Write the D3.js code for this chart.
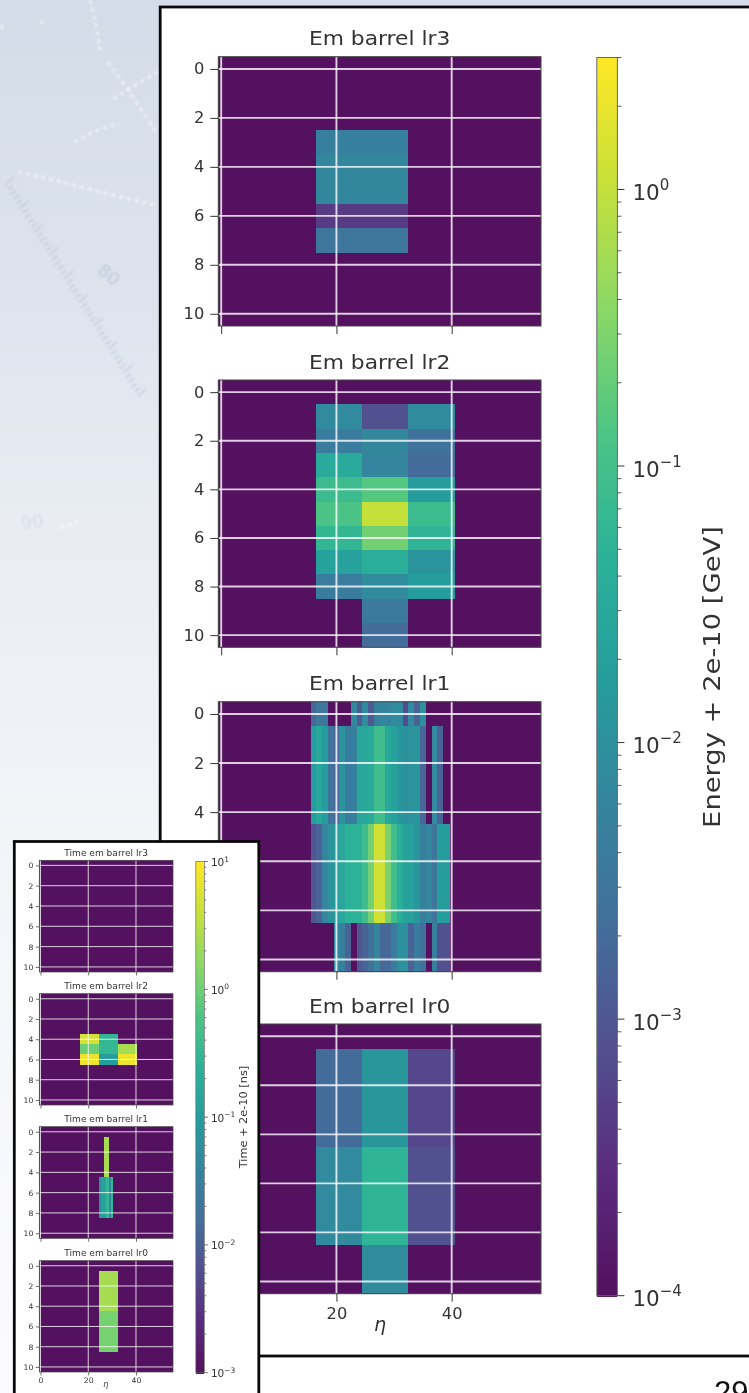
<!DOCTYPE html>
<html>
<head>
<meta charset="utf-8">
<script src="https://cdn.jsdelivr.net/npm/d3@7"></script>
<style>
html,body{margin:0;padding:0;background:#fff;}
svg{display:block;}
text{font-family:"DejaVu Sans",sans-serif;fill:#222;}
</style>
</head>
<body>
<div id="chart"></div>
<script>
// ---------- data ----------
const coarseEdges = [16.5, 24.5, 32.5, 40.5];
const fineEdges = [15.5,16.5,17.5,18.5,19.5,20.5,21.5,22.5,23.5,24.5,25.5,26.5,27.5,28.5,29.5,30.5,31.5,32.5,33.5,34.5,35.5,36.5,37.5,38.5,39.75];
const rowLabels = [0, 2, 4, 6, 8, 10];
const etaTicks = [0, 20, 40];
const energyDecades = [-4, -3, -2, -1, 0];
const timeDecades = [-3, -2, -1, 0, 1];

const x = null;
// Energy [GeV], rows 0..10 by eta bins
const energyLr3 = [
  [x,x,x],[x,x,x],[x,x,x],
  [0.0050,0.0050,x],
  [0.0068,0.0068,x],
  [0.0068,0.0068,x],
  [0.00043,0.00043,x],
  [0.0030,0.0030,x],
  [x,x,x],[x,x,x],[x,x,x]
];
const energyLr2 = [
  [x,x,x],
  [0.0076,0.0008,0.0083],
  [0.0041,0.0068,0.0025],
  [0.032,0.0062,0.002],
  [0.08,0.15,0.017],
  [0.125,1.07,0.08],
  [0.062,0.25,0.055],
  [0.021,0.04,0.0115],
  [0.0041,0.0083,0.017],
  [x,0.0037,x],
  [x,0.002,x]
];
const lr1Top = [0.0018,0.003,0.003,x,x,x,x,0.0076,0.0011,0.0083,0.0011,0.005,0.0062,0.0062,0.0076,0.0076,0.0007,0.0076,0.0015,0.01,x,x,x,x];
const lr1Upper = [0.017,0.03,0.017,0.0025,0.0018,0.011,0.0041,0.005,0.028,0.028,0.032,0.09,0.09,0.028,0.021,0.013,0.01,0.011,0.013,0.0018,x,0.0076,0.0015,x];
const lr1Lower = [0.001,0.0015,0.0062,0.011,0.017,0.028,0.05,0.05,0.05,0.09,0.25,1.3,1.3,0.28,0.09,0.04,0.021,0.021,0.013,0.005,0.0062,0.003,0.017,0.017];
const lr1Bottom = [x,x,x,x,0.0076,0.005,0.0015,x,0.001,0.0015,0.0025,0.0062,0.0018,0.0018,0.0041,0.0105,0.0105,0.0015,0.0041,0.0025,x,0.005,0.0008,0.0008];
const energyLr1 = [lr1Top,lr1Upper,lr1Upper,lr1Upper,lr1Upper,lr1Lower,lr1Lower,lr1Lower,lr1Lower,lr1Bottom,lr1Bottom];
const energyLr0 = [
  [x,x,x],
  [0.002,0.013,0.0006],[0.002,0.013,0.0006],[0.002,0.013,0.0006],[0.002,0.013,0.0006],
  [0.0076,0.055,0.0008],[0.0076,0.055,0.0008],[0.0076,0.055,0.0008],[0.0076,0.055,0.0008],
  [x,0.0083,x],[x,0.0083,x]
];

// Time [ns]
const timeLr3 = d3.range(11).map(() => [x,x,x]);
const timeLr2 = [
  [x,x,x],[x,x,x],[x,x,x],[x,x,x],
  [5.2,0.3,x],
  [1.0,0.33,2.5],
  [7.6,0.1,7.6],
  [x,x,x],[x,x,x],[x,x,x],[x,x,x]
];
const tLrUp = [x,x,2.5,2.5,x,x];
const tLrLo = [0.063,0.12,0.12,0.3,0.048,0.3];
const timeLr1 = [
  [x,x,x,x,x,x],tLrUp,tLrUp,tLrUp,tLrUp,tLrLo,tLrLo,tLrLo,tLrLo,[x,x,x,x,x,x],[x,x,x,x,x,x]
];
const tEdgesFine = [24.5,25.5,26.5,27.5,28.5,29.5,30.5];
const timeLr0 = [
  [x],[2.4],[2.4],[2.4],[2.4],[1.15],[1.15],[1.15],[1.15],[x],[x]
];
const timeLr0Edges = [24.5, 32.5];

// display colormap
const cmapStops = ["#54115f","#5a2c7e","#52508f","#436f9c","#34859d","#259d9c","#2bb298","#4ec584","#8bd866","#c6e03a","#fde725"];

// ---------- helpers ----------
const W = 749, H = 1393;
const svg = d3.select("#chart").append("svg").attr("width", W).attr("height", H)
  .style("filter", "blur(0.55px)");
const defs = svg.append("defs");

const colorPos = d3.scaleLinear().domain(d3.range(cmapStops.length).map(i => i / (cmapStops.length - 1))).range(cmapStops).interpolate(d3.interpolateRgb);

function makeScale(min, max) {
  const log = d3.scaleLog().domain([min, max]).range([0, 1]).clamp(true);
  return v => colorPos(log(v));
}

function drawPanel(root, o) {
  const xs = d3.scaleLinear().domain([-0.5, 55.5]).range([o.left, o.right]);
  const ys = d3.scaleLinear().domain([-0.5, 10.5]).range([o.top, o.bottom]);
  const g = root.append("g");
  g.append("rect").attr("x", o.left).attr("y", o.top).attr("width", o.right - o.left).attr("height", o.bottom - o.top)
    .attr("fill", o.color(o.vmin));
  o.matrix.forEach((row, r) => {
    g.selectAll(null).data(row.map((v, i) => ({v, i})).filter(d => d.v !== null)).enter().append("rect")
      .attr("x", d => xs(o.edges[d.i]))
      .attr("width", d => xs(o.edges[d.i + 1]) - xs(o.edges[d.i]))
      .attr("y", ys(r - 0.5))
      .attr("height", ys(r + 0.5) - ys(r - 0.5))
      .attr("fill", d => o.color(d.v))
      .attr("shape-rendering", "crispEdges");
  });
  // grid
  g.selectAll(null).data(etaTicks).enter().append("line")
    .attr("x1", d => xs(d)).attr("x2", d => xs(d)).attr("y1", o.top).attr("y2", o.bottom)
    .attr("stroke", "#fff").attr("stroke-opacity", 0.8).attr("stroke-width", o.grid);
  g.selectAll(null).data(rowLabels).enter().append("line")
    .attr("y1", d => ys(d)).attr("y2", d => ys(d)).attr("x1", o.left).attr("x2", o.right)
    .attr("stroke", "#fff").attr("stroke-opacity", 0.8).attr("stroke-width", o.grid);
  // spine
  g.append("rect").attr("x", o.left).attr("y", o.top).attr("width", o.right - o.left).attr("height", o.bottom - o.top)
    .attr("fill", "none").attr("stroke", "#444").attr("stroke-width", o.spine);
  // axes
  const ax = g.append("g").attr("transform", `translate(0,${o.bottom})`)
    .call(d3.axisBottom(xs).tickValues(etaTicks).tickSize(o.tick).tickPadding(o.pad).tickFormat(o.showX ? d3.format("d") : ""));
  const ay = g.append("g").attr("transform", `translate(${o.left},0)`)
    .call(d3.axisLeft(ys).tickValues(rowLabels).tickSize(o.tick).tickPadding(o.pad).tickFormat(d3.format("d")));
  [ax, ay].forEach(a => {
    a.select(".domain").remove();
    a.selectAll("line").attr("stroke", "#333").attr("stroke-width", o.spine);
    a.selectAll("text").style("font-family", '"DejaVu Sans"').attr("font-size", o.tickFont).style("fill", "#333");
  });
  ay.selectAll("text").attr("transform", function () {
    const px = +d3.select(this).attr("x");
    d3.select(this).attr("x", 0);
    return `translate(${px},0) scale(${o.stretch},1)`;
  });
  ax.selectAll("text").attr("transform", function () {
    const cx = 0;
    return `translate(${cx},0) scale(${o.stretch},1)`;
  });
  // title
  g.append("text").attr("text-anchor", "middle").attr("font-size", o.titleFont)
    .attr("transform", `translate(${(o.left + o.right) / 2},${o.top - o.titleGap}) scale(${o.titleStretch},1)`)
    .style("fill", "#333").text(o.title);
}

function supLabel(g, xp, yp, exp, size, supSize, dy) {
  const t = g.append("text").attr("x", xp).attr("y", yp).attr("font-size", size).style("fill", "#333");
  t.append("tspan").text("10");
  t.append("tspan").attr("font-size", supSize).attr("dy", -dy).text(String(exp).replace("-", "\u2212"));
}

function drawColorbar(root, o) {
  const g = root.append("g");
  const ys = d3.scaleLog().domain([o.vmin, o.vmax]).range([o.bottom, o.top]);
  const steps = d3.range(0, 256);
  const sy = d3.scaleLinear().domain([0, 256]).range([o.bottom, o.top]);
  g.selectAll(null).data(steps).enter().append("rect")
    .attr("x", o.left).attr("width", o.right - o.left)
    .attr("y", d => sy(d + 1)).attr("height", d => sy(d) - sy(d + 1) + 1)
    .attr("fill", d => colorPos(d / 255))
    .attr("shape-rendering", "crispEdges");
  g.append("rect").attr("x", o.left).attr("y", o.top).attr("width", o.right - o.left).attr("height", o.bottom - o.top)
    .attr("fill", "none").attr("stroke", "#666").attr("stroke-width", o.spine);
  o.decades.forEach(e => {
    supLabel(g, o.right + o.labelGap, ys(Math.pow(10, e)) + o.labelDy, e, o.font, o.supFont, o.supDy);
    g.append("line").attr("x1", o.right).attr("x2", o.right + o.major)
      .attr("y1", ys(Math.pow(10, e))).attr("y2", ys(Math.pow(10, e)))
      .attr("stroke", "#333").attr("stroke-width", o.spine);
    d3.range(2, 10).forEach(m => {
      const v = m * Math.pow(10, e);
      if (v > o.vmax) return;
      g.append("line").attr("x1", o.right).attr("x2", o.right + o.minor)
        .attr("y1", ys(v)).attr("y2", ys(v)).attr("stroke", "#333").attr("stroke-width", o.spine * 0.8);
    });
  });
  g.append("text").attr("text-anchor", "middle").attr("font-size", o.labelFont)
    .attr("transform", `translate(${o.labelX},${o.labelY}) rotate(-90) scale(${o.labelStretch},1)`)
    .style("fill", "#333").text(o.label);
}

// ---------- backdrop (faint photographic slide background) ----------
const grad = defs.append("linearGradient").attr("id", "bg").attr("x1", 0).attr("y1", 0).attr("x2", 0).attr("y2", 1);
[[0, "#d3dce8"], [0.18, "#dbe2ec"], [0.35, "#e7ebf2"], [0.6, "#f2f4f8"], [1, "#fbfbfd"]].forEach(s =>
  grad.append("stop").attr("offset", s[0]).attr("stop-color", s[1]));
svg.append("rect").attr("width", W).attr("height", H).attr("fill", "url(#bg)");
defs.append("filter").attr("id", "soft").append("feGaussianBlur").attr("stdDeviation", 1.3);
const bgG = svg.append("g").attr("filter", "url(#soft)");
const streaks = [
  [[90,0],[97,28],[100,50]], [[108,62],[125,85],[158,135]], [[158,72],[130,88],[112,100]],
  [[74,142],[100,128],[120,124]], [[18,172],[55,180],[100,192],[155,205]],
  [[0,27],[8,28]], [[40,22],[46,23]], [[60,528],[82,520]]
];
bgG.selectAll(null).data(streaks).enter().append("path")
  .attr("d", d3.line().curve(d3.curveBasis)).attr("fill", "none")
  .attr("stroke", "#fff").attr("stroke-opacity", 0.55).attr("stroke-width", 3)
  .attr("stroke-dasharray", "4 4");
const rulerTicks = d3.range(0, 46);
bgG.selectAll(null).data(rulerTicks).enter().append("line")
  .attr("x1", d => 5 + d * 2.95).attr("y1", d => 185 + d * 4.7)
  .attr("x2", d => 5 + d * 2.95 + (d % 5 === 0 ? 9 : 5)).attr("y2", d => 185 + d * 4.7 - (d % 5 === 0 ? 8 : 4))
  .attr("stroke", "#a7b5c9").attr("stroke-opacity", 0.5).attr("stroke-width", 1.6);
svg.append("text").attr("x", 96).attr("y", 272).attr("font-size", 18).attr("transform", "rotate(40 96 272)")
  .style("fill", "#a9b6ca").style("opacity", 0.6).attr("filter", "url(#soft)").text("80");
svg.append("text").attr("x", 22).attr("y", 530).attr("font-size", 18).attr("transform", "rotate(-10 22 530)")
  .style("fill", "#c4cedc").style("opacity", 0.5).attr("filter", "url(#soft)").text("90");

// page white below the frames
svg.append("rect").attr("x", 258).attr("y", 1355).attr("width", W - 258).attr("height", H - 1355).attr("fill", "#fff");
svg.append("text").attr("x", 714).attr("y", 1403).attr("font-size", 31)
  .style("font-family", '"Liberation Sans"').style("fill", "#111").text("29");

// ---------- main frame ----------
svg.append("rect").attr("x", 160.2).attr("y", 7).attr("width", W + 20).attr("height", 1349)
  .attr("fill", "#fff").attr("stroke", "#0a0a0a").attr("stroke-width", 2.8);

const energyColor = makeScale(1e-4, 3);
const mainBase = {left: 218.3, right: 541, vmin: 1e-4, color: energyColor, grid: 1.9, spine: 1, tick: 8, pad: 6, tickFont: 15.5, stretch: 1.05, titleFont: 20, titleGap: 11.5, titleStretch: 1.09};
const mainG = svg.append("g");
[
  {title: "Em barrel lr3", top: 56.7, bottom: 326, matrix: energyLr3, edges: coarseEdges},
  {title: "Em barrel lr2", top: 380, bottom: 647.3, matrix: energyLr2, edges: coarseEdges},
  {title: "Em barrel lr1", top: 701.7, bottom: 971.7, matrix: energyLr1, edges: fineEdges},
  {title: "Em barrel lr0", top: 1024, bottom: 1293.7, matrix: energyLr0, edges: coarseEdges, showX: true}
].forEach(p => drawPanel(mainG, Object.assign({}, mainBase, p)));
mainG.append("text").attr("x", 380).attr("y", 1331).attr("text-anchor", "middle").attr("font-size", 19)
  .style("font-style", "italic").style("fill", "#333").text("\u03b7");

drawColorbar(mainG, {
  left: 596.8, right: 617.4, top: 57.5, bottom: 1295.7, vmin: 1e-4, vmax: 3, decades: energyDecades,
  major: 7, minor: 4, spine: 1, font: 21.5, supFont: 15, supDy: 10, labelGap: 15, labelDy: 10.5,
  label: "Energy + 2e-10 [GeV]", labelFont: 23, labelStretch: 1.19, labelX: 720, labelY: 677
});

// ---------- inset frame ----------
svg.append("rect").attr("x", 14.3).attr("y", 841.5).attr("width", 244.5).attr("height", 570)
  .attr("fill", "#fff").attr("stroke", "#0a0a0a").attr("stroke-width", 2.8);

const timeColor = makeScale(1e-3, 10);
const insetBase = {left: 39.3, right: 173, vmin: 1e-3, color: timeColor, grid: 1, spine: 0.7, tick: 3.5, pad: 2.5, tickFont: 7.5, stretch: 1.03, titleFont: 8.8, titleGap: 4.6, titleStretch: 1.03};
const insetG = svg.append("g");
[
  {title: "Time em barrel lr3", top: 860.3, bottom: 972, matrix: timeLr3, edges: coarseEdges},
  {title: "Time em barrel lr2", top: 993.7, bottom: 1105, matrix: timeLr2, edges: coarseEdges},
  {title: "Time em barrel lr1", top: 1126.7, bottom: 1238.3, matrix: timeLr1, edges: tEdgesFine},
  {title: "Time em barrel lr0", top: 1260.7, bottom: 1372, matrix: timeLr0, edges: timeLr0Edges, showX: true}
].forEach(p => drawPanel(insetG, Object.assign({}, insetBase, p)));
insetG.append("text").attr("x", 105.7).attr("y", 1387).attr("text-anchor", "middle").attr("font-size", 8)
  .style("font-style", "italic").style("fill", "#333").text("\u03b7");

drawColorbar(insetG, {
  left: 195.8, right: 204.4, top: 861.5, bottom: 1372.7, vmin: 1e-3, vmax: 10, decades: timeDecades,
  major: 3.5, minor: 2, spine: 0.7, font: 10.5, supFont: 7.5, supDy: 4.5, labelGap: 6.5, labelDy: 4.5,
  label: "Time + 2e-10 [ns]", labelFont: 10.5, labelStretch: 1.08, labelX: 247, labelY: 1117
});
</script>
</body>
</html>
